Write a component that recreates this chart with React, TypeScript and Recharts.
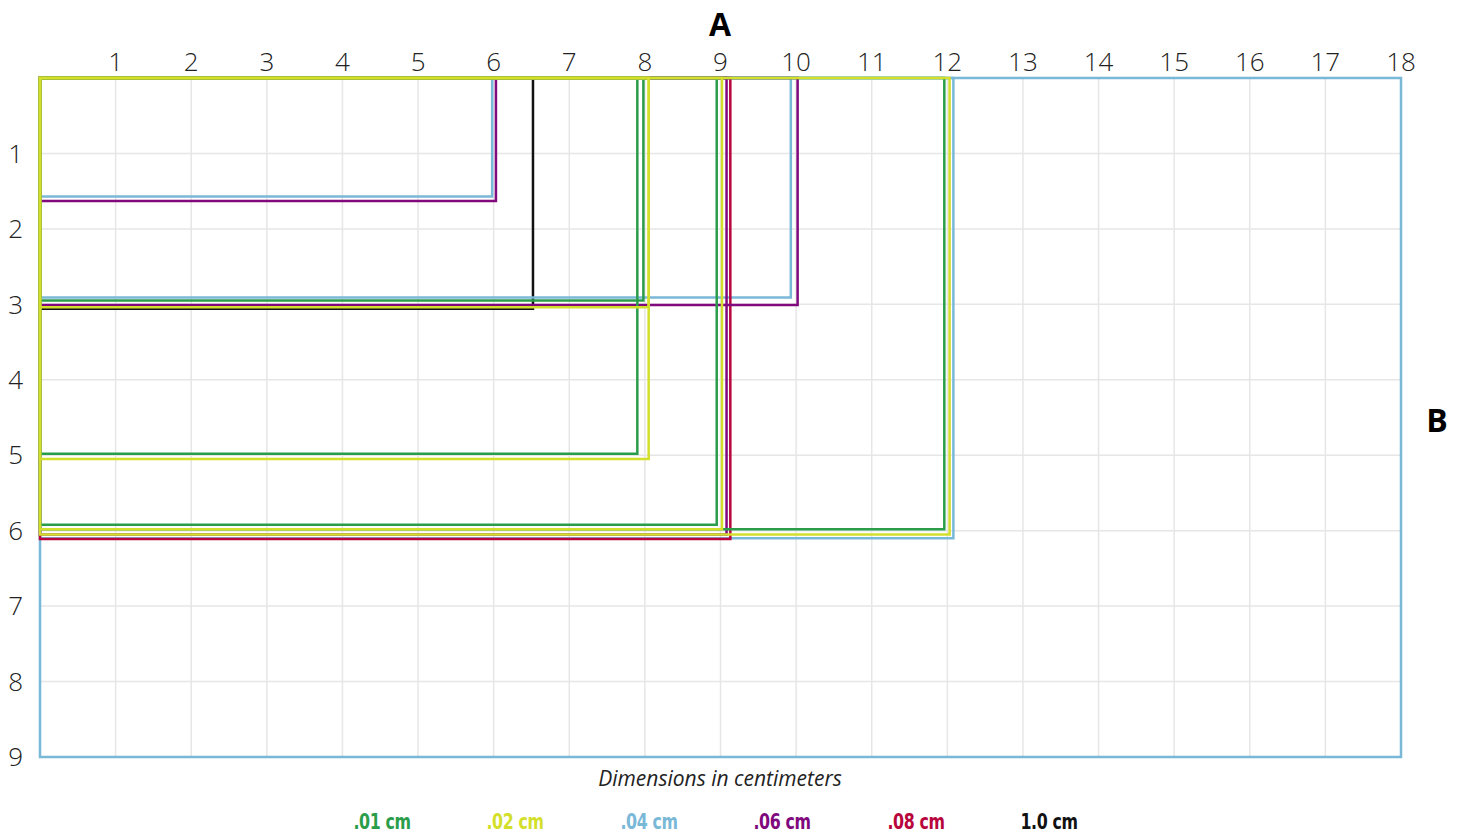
import React from "react";
import { ComposedChart, XAxis, YAxis, CartesianGrid, Line } from "recharts";

const xTicks = [1, 2, 3, 4, 5, 6, 7, 8, 9, 10, 11, 12, 13, 14, 15, 16, 17, 18];
const yTicks = [1, 2, 3, 4, 5, 6, 7, 8, 9];

const legendLabels = [".01 cm", ".02 cm", ".04 cm", ".06 cm", ".08 cm", "1.0 cm"];
const seriesColors = ["#2a9d4a", "#d3df2b", "#7ab8d8", "#80097d", "#b8063c", "#111111"];

const green01W = [7.98, 7.9, 8.95, 11.96];
const green01H = [2.95, 4.98, 5.92, 5.98];
const yellow02W = [8.05, 8.05, 9.02, 12.03];
const yellow02H = [3.04, 5.05, 5.98, 6.05];
const blue04W = [5.98, 9.93, 12.08, 18];
const blue04H = [1.57, 2.91, 6.1, 9];
const purple06W = [6.03, 10.02, 9.08];
const purple06H = [1.63, 3.01, 6.05];
const red08W = [9.13];
const red08H = [6.11];
const black10W = [6.52];
const black10H = [3.06];

const seriesW = [green01W, yellow02W, blue04W, purple06W, red08W, black10W];
const seriesH = [green01H, yellow02H, blue04H, purple06H, red08H, black10H];
const drawOrder = [5, 2, 4, 3, 0, 1];

const frame = [{ x: 0, y: 0 }, { x: 18, y: 9 }];

const tickFont = { fontFamily: "'Open Sans', 'Noto Sans', sans-serif", fontSize: 26, fill: "#222", fontWeight: 300 };

function rectPoints(w: number, h: number) {
  return [
    { x: 0, y: 0 },
    { x: w, y: 0 },
    { x: w, y: h },
    { x: 0, y: h },
    { x: 0, y: 0 },
  ];
}

export default function App() {
  const lines: React.ReactNode[] = [];
  drawOrder.forEach((s) => {
    seriesW[s].forEach((w, i) => {
      lines.push(
        <Line
          key={`${s}-${i}`}
          data={rectPoints(w, seriesH[s][i])}
          dataKey="y"
          type="linear"
          stroke={seriesColors[s]}
          strokeWidth={2.5}
          strokeLinejoin="miter"
          strokeLinecap="square"
          dot={false}
          activeDot={false}
          isAnimationActive={false}
          legendType="none"
        />
      );
    });
  });
  return (
    <div style={{ position: "absolute", left: 0, top: 0, width: 1464, height: 833, background: "#fff" }}>
      <ComposedChart width={1464} height={833} data={frame} margin={{ top: 48, right: 63, bottom: 76, left: 0 }}>
        <CartesianGrid stroke="#e6e6e6" strokeWidth={1.5} />
        <XAxis
          dataKey="x"
          type="number"
          orientation="top"
          domain={[0, 18]}
          ticks={xTicks}
          height={30}
          axisLine={false}
          tickLine={false}
          tickSize={0}
          tickMargin={7}
          tick={tickFont}
          interval={0}
        />
        <YAxis
          type="number"
          domain={[0, 9]}
          ticks={yTicks}
          reversed
          width={40}
          axisLine={false}
          tickLine={false}
          tickSize={0}
          tickMargin={17}
          tick={tickFont}
          interval={0}
        />
        {lines}
      </ComposedChart>
      <div style={{ position: "absolute", left: 700, width: 40, top: 4, textAlign: "center", fontFamily: "'Open Sans', sans-serif", fontWeight: 700, fontSize: 32, lineHeight: "40px", color: "#000" }}>A</div>
      <div style={{ position: "absolute", left: 1417, width: 40, top: 400, textAlign: "center", fontFamily: "'Open Sans', sans-serif", fontWeight: 700, fontSize: 32, lineHeight: "40px", color: "#000" }}>B</div>
      <div style={{ position: "absolute", left: 420, width: 600, top: 764, textAlign: "center", fontFamily: "'Open Sans', sans-serif", fontStyle: "italic", fontSize: 21, lineHeight: "28px", color: "#222" }}>Dimensions in centimeters</div>
      {legendLabels.map((t, i) => (
        <div
          key={t}
          style={{ position: "absolute", left: 382 + i * 133.4 - 60, width: 120, top: 808, textAlign: "center", fontFamily: "'Liberation Sans Narrow', 'DejaVu Sans Condensed', sans-serif", fontWeight: 700, fontSize: 22, lineHeight: "28px", color: seriesColors[i], letterSpacing: -0.5, transform: "scaleX(0.8)" }}
        >
          {t}
        </div>
      ))}
    </div>
  );
}
